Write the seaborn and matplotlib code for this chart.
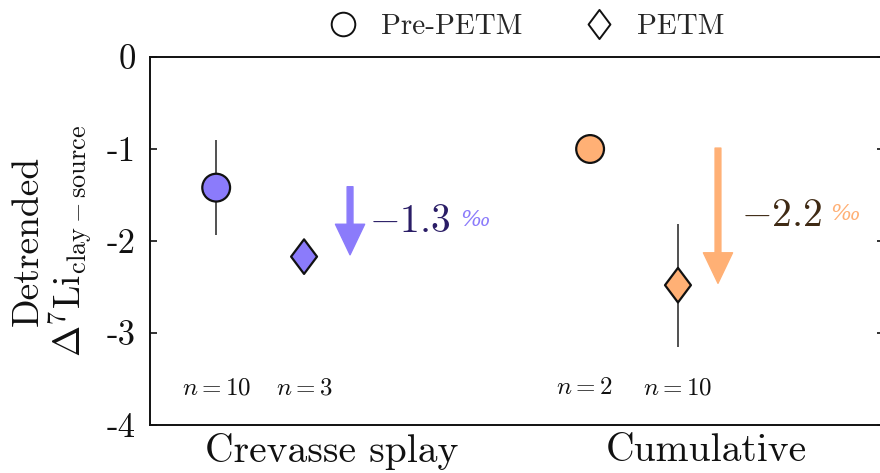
import numpy as np
import pandas as pd
import matplotlib
matplotlib.use("Agg")
import matplotlib.pyplot as plt
from matplotlib.path import Path
from matplotlib.lines import Line2D
import seaborn as sns

# ---- data ----
categories = ["Crevasse splay", "Cumulative"]
periods = ["Pre-PETM", "PETM"]
pre_values = [-1.42, -1.00]
pre_errors = [0.52, 0.0]
petm_values = [-2.17, -2.48]
petm_errors = [0.0, 0.67]
pre_n = ["$n = 10$", "$n = 2$"]
petm_n = ["$n = 3$", "$n = 10$"]
shift_labels = ["$-1.3$", "$-2.2$"]
colors = ["#8b7bfb", "#ffb075"]
text_colors = ["#2a1d66", "#3f2a14"]
yticks = [0, -1, -2, -3, -4]
ytick_labels = ["0", "-1", "-2", "-3", "-4"]

sns.set_theme(style="white")
plt.rcParams["font.family"] = ["cmr10", "DejaVu Serif"]
plt.rcParams["mathtext.fontset"] = "cm"
plt.rcParams["axes.unicode_minus"] = False
plt.rcParams["axes.formatter.use_mathtext"] = True

diamond = Path([(0, 1), (0.75, 0), (0, -1), (-0.75, 0), (0, 1)],
               [Path.MOVETO, Path.LINETO, Path.LINETO, Path.LINETO, Path.CLOSEPOLY])

fig = plt.figure(figsize=(8.8, 4.73), dpi=100)
ax = fig.add_axes([150 / 880, 1 - 425 / 473, (884 - 150) / 880, (425 - 57) / 473])

off_pre, off_petm = -0.31, -0.075
rows = []
for i, c in enumerate(categories):
    rows.append(dict(cat=c, x=i + off_pre, y=pre_values[i], err=pre_errors[i], period="Pre-PETM", col=colors[i]))
    rows.append(dict(cat=c, x=i + off_petm, y=petm_values[i], err=petm_errors[i], period="PETM", col=colors[i]))
df = pd.DataFrame(rows)

# error bars
for _, r in df.iterrows():
    if r.err > 0:
        ax.errorbar(r.x, r.y, yerr=r.err, fmt="none", ecolor="#222222", elinewidth=1.1, capsize=0, zorder=2)

pal = {c: colors[i] for i, c in enumerate(categories)}
sns.scatterplot(data=df[df.period == "Pre-PETM"], x="x", y="y", hue="cat", palette=pal,
                marker="o", s=400, edgecolor="#111111", linewidth=1.6, legend=False, ax=ax, zorder=3)
sns.scatterplot(data=df[df.period == "PETM"], x="x", y="y", hue="cat", palette=pal,
                marker=diamond, s=620, edgecolor="#111111", linewidth=1.6, legend=False, ax=ax, zorder=3)

# arrows and shift labels
arrow_off = [0.048, 0.032]
for i in range(2):
    xa = i + arrow_off[i]
    ax.annotate("", xy=(xa, petm_values[i] + 0.02), xytext=(xa, pre_values[i] + 0.01),
                arrowprops=dict(width=4.2, headwidth=21, headlength=22, color=colors[i], shrink=0),
                zorder=2)
ax.text(0 + 0.100, -1.79, shift_labels[0], color=text_colors[0], fontsize=28.5, va="center", ha="left")
ax.text(1 + 0.093, -1.73, shift_labels[1], color=text_colors[1], fontsize=28.5, va="center", ha="left")
ax.text(0 + 0.342, -1.77, "‰", color=colors[0], fontsize=16, va="center", ha="left",
        family="DejaVu Serif", style="italic")
ax.text(1 + 0.332, -1.71, "‰", color=colors[1], fontsize=16, va="center", ha="left",
        family="DejaVu Serif", style="italic")

# n labels
n_y = -3.6
for i in range(2):
    ax.text(i + off_pre - 0.015 * i, n_y, pre_n[i], fontsize=18, ha="center", va="center", color="#111111")
    ax.text(i + off_petm, n_y, petm_n[i], fontsize=18, ha="center", va="center", color="#111111")

ax.set_xlim(-0.487, 1.476)
ax.set_ylim(-4, 0)
ax.set_xticks([0, 1])
ax.set_xticklabels(categories, fontsize=28.5)
ax.set_yticks(yticks)
ax.set_yticklabels(ytick_labels, fontsize=25)
ax.tick_params(axis="x", length=0, pad=6, colors="#111111")
ax.tick_params(axis="y", direction="in", length=5, width=1.2, left=True, right=True, pad=10, colors="#111111")
ax.set_xlabel("")
ax.set_ylabel("Detrended\n$\\Delta^{7}\\mathrm{Li}_{\\mathrm{clay-source}}$", fontsize=27,
              linespacing=1.05, labelpad=9, color="#111111")
for s in ax.spines.values():
    s.set_color("#111111")
    s.set_linewidth(1.4)

handles = [
    Line2D([], [], marker="o", linestyle="none", markersize=17, markerfacecolor="white",
           markeredgecolor="#111111", markeredgewidth=1.4, label="Pre-PETM"),
    Line2D([], [], marker=diamond, linestyle="none", markersize=21, markerfacecolor="white",
           markeredgecolor="#111111", markeredgewidth=1.4, label="PETM"),
]
fig.legend(handles=handles, loc="center", bbox_to_anchor=(519 / 880, 1 - 27 / 473), ncol=2,
           frameon=False, fontsize=21, columnspacing=1.65, handletextpad=0.3)

fig.savefig("out.png", dpi=100)
